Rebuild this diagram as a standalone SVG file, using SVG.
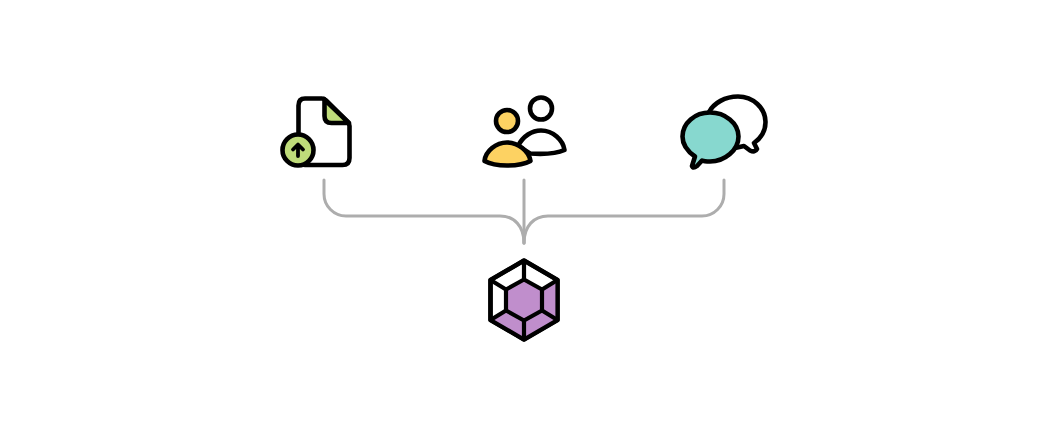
<svg xmlns="http://www.w3.org/2000/svg" width="1048" height="432" viewBox="0 0 1048 432">
<style>
.i{stroke:#000;stroke-width:4.600;stroke-linejoin:round;stroke-linecap:round;fill:#fff}
.c{fill:none;stroke:#adadad;stroke-width:3;stroke-linecap:round}
.g{fill:#bfdc7a}.y{fill:#fdd262}.t{fill:#87d8cf}.p{fill:#c08ecc}
.k{fill:none;stroke:#000;stroke-width:4.200;stroke-linejoin:round}
</style>
<rect width="1048" height="432" fill="#fff"/>
<g id="connectors">
<path class="c" d="M324 180V194A22 22 0 0 0 346 216H500C514 216 524 226 524 243"/>
<path class="c" d="M724 180V194A22 22 0 0 1 702 216H548C534 216 524 226 524 243"/>
<path class="c" d="M524 180V243"/>
</g>
<g id="file">
<path class="i" d="M305 98.500H322Q324 98.500 326 100.500L347.500 122Q349.500 124 349.500 126V158Q349.500 165 342.500 165H305Q298.500 165 298.500 158V105.500Q298.500 98.500 305 98.500Z"/>
<path class="i g" d="M324.500 100V116Q324.500 123 331.500 123H349L324 99Z"/>
<circle class="i g" cx="298" cy="150" r="15.500"/>
<path d="M298 156V145M293 149.500L298 144.500L303 149.500" fill="none" stroke="#000" stroke-width="3.800" stroke-linecap="round" stroke-linejoin="round"/>
</g>
<g id="people">
<circle class="i" cx="541" cy="108.500" r="11"/>
<path class="i" d="M518 146C523 136 532 130.500 541 130.500C553 130.500 563 140 564.500 150C558 153 545 154.500 530 153.500Z"/>
<circle class="i y" cx="507" cy="121" r="11"/>
<path class="i y" d="M484.500 161C485.500 151 496 142.500 507 142.500C518 142.500 529 151 530.500 161C525 164 516 165.500 507 165.500C498 165.500 490 164 484.500 161Z"/>
</g>
<g id="chat">
<path class="i" d="M709 112C714 103 725 96.500 738 96.500C753 96.500 765.500 108 765.500 122C765.500 131 761 138 754 143L757 149Q755 153 750 150.500L744 146L735 148Z"/>
<path class="i t" d="M710 112.500C725 112.500 738.500 123 738.500 136.500C738.500 150 725 161.500 710 161.500C707 161.500 704 161.500 702 160.500L697 166Q693 169 692 166L695 156.500C687 151 682.500 144 682.500 136.500C682.500 123 695 112.500 710 112.500Z"/>
</g>
<g id="gem">
<path d="M524 260.500L557.500 280V320L524 339.500L490.500 320V280Z" class="i"/>
<path class="p" d="M557.500 280V320L524 339.500L490.500 320L506.500 310.500V289.500L524 279.500L541.500 289.500Z"/>
<path class="k" d="M524 260.500L557.500 280V320L524 339.500L490.500 320V280Z"/>
<path class="k p" d="M524 279.500L542 289.500V310.500L524 320.500L506 310.500V289.500Z"/>
<path class="k" d="M524 260.500V279.500M557.500 280L542 289.500M557.500 320L542 310.500M524 339.500V320.500M490.500 320L506 310.500M490.500 280L506 289.500"/>
</g>
</svg>
